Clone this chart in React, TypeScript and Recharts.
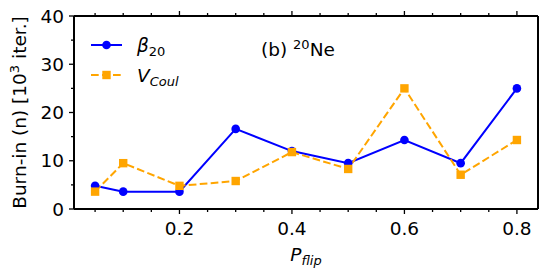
import { LineChart, Line, XAxis, YAxis } from 'recharts';

const P_FLIP = [0.05, 0.1, 0.2, 0.3, 0.4, 0.5, 0.6, 0.7, 0.8];
const BETA_20 = [4.8, 3.6, 3.6, 16.6, 12.0, 9.5, 14.3, 9.5, 25.0];
const V_COUL = [3.6, 9.5, 4.8, 5.8, 11.8, 8.3, 25.0, 7.1, 14.3];

const X_TICKS = [0.05, 0.1, 0.15, 0.2, 0.25, 0.3, 0.35, 0.4, 0.45, 0.5, 0.55, 0.6, 0.65, 0.7, 0.75, 0.8];
const X_LABELS = ['0.2', '0.4', '0.6', '0.8'];
const Y_TICKS = [0, 5, 10, 15, 20, 25, 30, 35, 40];
const Y_LABELS = ['0', '10', '20', '30', '40'];

const BLUE = '#0000ff';
const ORANGE = '#ffa500';
const FONT = 'DejaVu Sans';
const FS = 18.5;
const SUB = 13;

const data = P_FLIP.map((p, i) => ({ p, beta: BETA_20[i], vcoul: V_COUL[i] }));

const findLabel = (labels: string[], v: number) =>
  labels.find((l) => Math.abs(parseFloat(l) - v) < 1e-6);

// ticks drawn by hand so major and minor can have different lengths
const makeTick = (side: 'bottom' | 'top' | 'left' | 'right', labels: string[]) => (props: any) => {
  const { x, y, payload } = props;
  const label = findLabel(labels, payload.value);
  const len = label ? 5 : 3;
  const common = { stroke: '#000', strokeWidth: 1.3 };
  if (side === 'bottom') {
    return (
      <g>
        <line x1={x} y1={y} x2={x} y2={y + len} {...common} />
        {label && (
          <text x={x} y={y + 26} textAnchor="middle" fontSize={FS} fontFamily={FONT} fill="#000">
            {label}
          </text>
        )}
      </g>
    );
  }
  if (side === 'top') return <line x1={x} y1={y} x2={x} y2={y - len} {...common} />;
  if (side === 'right') return <line x1={x} y1={y} x2={x + len} y2={y} {...common} />;
  return (
    <g>
      <line x1={x} y1={y} x2={x - len} y2={y} {...common} />
      {label && (
        <text x={x - 10} y={y + 6.5} textAnchor="end" fontSize={FS} fontFamily={FONT} fill="#000">
          {label}
        </text>
      )}
    </g>
  );
};

const CircleDot = (props: any) => {
  const { cx, cy, index } = props;
  return <circle key={`c${index}`} cx={cx} cy={cy} r={4.3} fill={BLUE} />;
};

const SquareDot = (props: any) => {
  const { cx, cy, index } = props;
  return <rect key={`s${index}`} x={cx - 4.2} y={cy - 4.2} width={8.4} height={8.4} fill={ORANGE} />;
};

const axisLine = { stroke: '#000', strokeWidth: 2 };

export default function App() {
  return (
    <div style={{ position: 'absolute', left: 0, top: 0, background: '#fff' }}>
      <LineChart width={555} height={279} data={data} margin={{ top: 0, right: 0, bottom: 0, left: 0 }}>
        <XAxis
          xAxisId="b"
          dataKey="p"
          type="number"
          domain={[0.0125, 0.8375]}
          ticks={X_TICKS}
          interval={0}
          height={70}
          tickSize={0}
          tickMargin={0}
          tickLine={false}
          axisLine={axisLine}
          tick={makeTick('bottom', X_LABELS)}
        />
        <XAxis
          xAxisId="t"
          orientation="top"
          dataKey="p"
          type="number"
          domain={[0.0125, 0.8375]}
          ticks={X_TICKS}
          interval={0}
          height={16}
          tickSize={0}
          tickMargin={0}
          tickLine={false}
          axisLine={axisLine}
          tick={makeTick('top', X_LABELS)}
        />
        <YAxis
          yAxisId="l"
          type="number"
          domain={[0, 40]}
          ticks={Y_TICKS}
          interval={0}
          width={74}
          tickSize={0}
          tickMargin={0}
          tickLine={false}
          axisLine={axisLine}
          tick={makeTick('left', Y_LABELS)}
        />
        <YAxis
          yAxisId="r"
          orientation="right"
          type="number"
          domain={[0, 40]}
          ticks={Y_TICKS}
          interval={0}
          width={17}
          tickSize={0}
          tickMargin={0}
          tickLine={false}
          axisLine={axisLine}
          tick={makeTick('right', Y_LABELS)}
        />
        <Line
          xAxisId="b"
          yAxisId="l"
          dataKey="beta"
          stroke={BLUE}
          strokeWidth={2}
          dot={CircleDot}
          activeDot={false}
          isAnimationActive={false}
        />
        <Line
          xAxisId="b"
          yAxisId="l"
          dataKey="vcoul"
          stroke={ORANGE}
          strokeWidth={2}
          strokeDasharray="7.7 3.3"
          dot={SquareDot}
          activeDot={false}
          isAnimationActive={false}
        />

        {/* legend */}
        <line x1={91} y1={45} x2={122} y2={45} stroke={BLUE} strokeWidth={2} />
        <circle cx={106.5} cy={45} r={4.3} fill={BLUE} />
        <text x={137} y={52} fontSize={FS} fontFamily={FONT} fill="#000">
          <tspan fontStyle="italic">β</tspan>
          <tspan dy={3.5} fontSize={SUB}>20</tspan>
        </text>
        <line x1={91} y1={75} x2={122} y2={75} stroke={ORANGE} strokeWidth={2} strokeDasharray="7.7 3.3" />
        <rect x={102.3} y={70.8} width={8.4} height={8.4} fill={ORANGE} />
        <text x={137} y={82} fontSize={FS} fontFamily={FONT} fill="#000">
          <tspan fontStyle="italic">V</tspan>
          <tspan dy={3.5} fontSize={SUB} fontStyle="italic">Coul</tspan>
        </text>

        {/* panel title */}
        <text x={261} y={56} fontSize={FS} fontFamily={FONT} fill="#000">
          (b){' '}
          <tspan dy={-7} fontSize={SUB}>20</tspan>
          <tspan dy={7}>Ne</tspan>
        </text>

        {/* axis titles */}
        <text
          x={0}
          y={0}
          transform="translate(25.5 112.5) rotate(-90)"
          textAnchor="middle"
          fontSize={FS}
          fontFamily={FONT}
          fill="#000"
        >
          Burn-in (n) [10
          <tspan dy={-7} fontSize={SUB}>3</tspan>
          <tspan dy={7}> iter.]</tspan>
        </text>
        <text x={306} y={261} textAnchor="middle" fontSize={FS} fontFamily={FONT} fill="#000">
          <tspan fontStyle="italic">P</tspan>
          <tspan dy={3.5} fontSize={SUB} fontStyle="italic">flip</tspan>
        </text>
      </LineChart>
    </div>
  );
}
